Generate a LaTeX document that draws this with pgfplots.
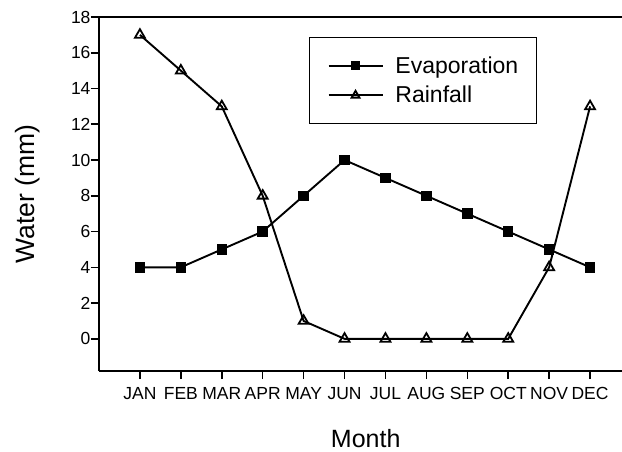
\documentclass[border=0pt]{standalone}
\usepackage{pgfplots}
\pgfplotsset{compat=1.18}
\usepackage{fontspec}
\setmainfont{Liberation Sans}
\pgfplotstableread{
x evap rain
0 4 17
1 4 15
2 5 13
3 6 8
4 8 1
5 10 0
6 9 0
7 8 0
8 7 0
9 6 0
10 5 4
11 4 13
}\datatable
\begin{document}
\begin{tikzpicture}
\begin{axis}[
  scale only axis, width=523bp, height=354bp,
  xmin=-1, xmax=11.78, ymin=-1.8, ymax=18,
  axis x line*=box, axis y line*=left,
  xtick={0,...,11},
  xticklabels={JAN,FEB,MAR,APR,MAY,JUN,JUL,AUG,SEP,OCT,NOV,DEC},
  ytick={0,2,...,18},
  xtick pos=bottom, ytick pos=left,
  tick align=outside, major tick length=8bp,
  tick style={line width=1.6bp, black},
  axis line style={line width=2.2bp},
  ticklabel style={font=\fontsize{17.5bp}{20bp}\selectfont},
  xticklabel style={yshift=-5bp},
  yticklabel style={xshift=3bp},
  /pgf/number format/assume math mode=true,
  xlabel={Month},
  xlabel style={at={(rel axis cs:0.51,-0.19)}, anchor=center, font=\fontsize{25bp}{30bp}\selectfont},
  ylabel={Water (mm)},
  ylabel style={at={(rel axis cs:-0.136,0.5)}, anchor=center, font=\fontsize{26.5bp}{30bp}\selectfont},
  legend style={at={(rel axis cs:0.4015,0.9435)}, anchor=north west, draw=black, line width=1.2bp,
    font=\fontsize{23bp}{27bp}\selectfont, inner xsep=18bp, inner ysep=19bp, row sep=11.5bp,
    column sep=12bp, nodes={inner sep=0bp}},
  legend cell align=left,
  legend image code/.code={\draw[mark repeat=2,mark phase=2,#1,every mark/.append style={scale=0.8}] plot coordinates {(0bp,0bp)(27bp,0bp)(54bp,0bp)};},
]
\addplot[black, line width=1.9bp, mark=square*, mark size=4.3bp, mark options={solid, fill=black}] table[x=x,y=evap] {\datatable};
\addlegendentry{Evaporation}
\addplot[black, line width=1.9bp, mark=triangle, mark size=5.7bp, mark options={solid, fill=white, line width=1.8bp}] table[x=x,y=rain] {\datatable};
\addlegendentry{Rainfall}
\coordinate (O) at (rel axis cs:0,0);
\end{axis}
\pgfresetboundingbox
\path (O) ++(-99bp,-81bp) rectangle ++(622bp,452bp);
\end{tikzpicture}
\end{document}
